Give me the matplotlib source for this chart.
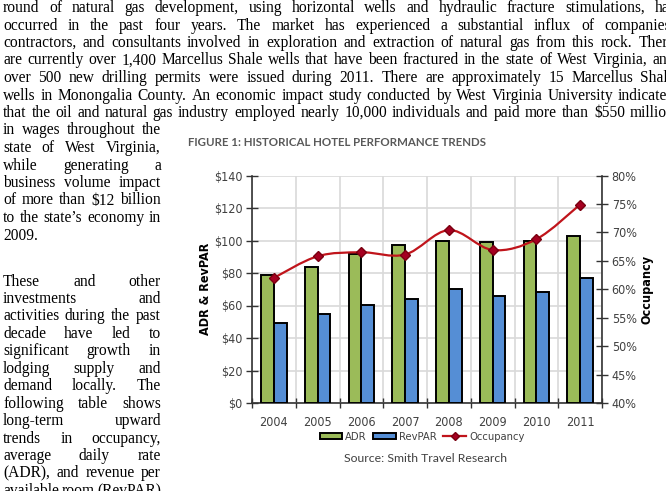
import numpy as np
import matplotlib
matplotlib.use("Agg")
import matplotlib.pyplot as plt
from matplotlib.path import Path
from matplotlib.patches import PathPatch, Patch
from matplotlib.lines import Line2D
from matplotlib.transforms import IdentityTransform
from matplotlib import font_manager

# data
years = ["2004", "2005", "2006", "2007", "2008", "2009", "2010", "2011"]
adr = [79, 84, 92, 97, 100, 99, 99.5, 102.5]
revpar = [49, 55, 60.5, 64, 70, 66, 68.5, 77]
occupancy = [62.0, 65.8, 66.5, 66.1, 70.4, 66.9, 68.8, 74.9]

left_ticks = [0, 20, 40, 60, 80, 100, 120, 140]
right_ticks = [40, 45, 50, 55, 60, 65, 70, 75, 80]

para_top = [
    "round of natural gas development, using horizontal wells and hydraulic fracture stimulations, has",
    "occurred in the past four years. The market has experienced a substantial influx of companies,",
    "contractors, and consultants involved in exploration and extraction of natural gas from this rock. There",
    "are currently over 1,400 Marcellus Shale wells that have been fractured in the state of West Virginia, and",
    "over 500 new drilling permits were issued during 2011. There are approximately 15 Marcellus Shale",
    "wells in Monongalia County. An economic impact study conducted by West Virginia University indicated",
    "that the oil and natural gas industry employed nearly 10,000 individuals and paid more than $550 million",
]
para_col1 = [
    "in wages throughout the",
    "state of West Virginia,",
    "while generating a",
    "business volume impact",
    "of more than $12 billion",
    "to the state\u2019s economy in",
    "2009.",
]
para_col2 = [
    "These and other",
    "investments and",
    "activities during the past",
    "decade have led to",
    "significant growth in",
    "lodging supply and",
    "demand locally. The",
    "following table shows",
    "long-term upward",
    "trends in occupancy,",
    "average daily rate",
    "(ADR), and revenue per",
    "available room (RevPAR)",
]

W, H = 666, 491
fig = plt.figure(figsize=(W / 100, H / 100), dpi=100)
fig.patch.set_facecolor("white")

serif = ["Liberation Serif"]
sans = ["Lato"]
narrow = dict(family="DejaVu Sans", stretch="condensed")

renderer = fig.canvas.get_renderer()
ident = IdentityTransform()


def justify(line, y_img, x0, x1, size, last=False):
    words = line.split()
    arts = [fig.text(0, 0, w, transform=ident, fontsize=size, family=serif,
                     color="black", va="baseline", ha="left") for w in words]
    widths = [a.get_window_extent(renderer).width for a in arts]
    space = size * 100 / 72 * 0.25
    if last or len(words) == 1:
        gap = space
    else:
        gap = max((x1 - x0 - sum(widths)) / (len(words) - 1), 0.6 * space)
    x = x0
    for a, w in zip(arts, widths):
        a.set_position((x, H - y_img))
        x += w + gap


fs_body = 11.2
for k, line in enumerate(para_top):
    justify(line, 12 + 17.5 * k, 3, 675, fs_body)
for k, line in enumerate(para_col1):
    justify(line, 12 + 17.5 * (k + 7), 3, 161, fs_body, last=(k == len(para_col1) - 1))
for k, line in enumerate(para_col2):
    justify(line, 285.5 + 17.45 * k, 3, 161, fs_body)

# chart
ax = fig.add_axes([252 / W, (H - 403) / H, 350 / W, (403 - 175.5) / H])
x = np.arange(len(years))
bw = 0.29
ax.bar(x - bw / 2, adr, bw, color="#9BBB59", edgecolor="black", linewidth=1.4, zorder=3)
ax.bar(x + bw / 2, revpar, bw, color="#558ED5", edgecolor="black", linewidth=1.4, zorder=3)
ax.set_xlim(-0.5, len(years) - 0.5)
ax.set_ylim(0, 140)
ax.set_yticks(left_ticks)
ax.set_yticklabels(["${}".format(v) for v in left_ticks])
ax.set_xticks(x)
ax.set_xticklabels(years)
ax.set_xticks(np.arange(len(years) + 1) - 0.5, minor=True)
ax.tick_params(axis="x", which="major", length=0, pad=9)
ax.tick_params(axis="x", which="minor", length=7, direction="inout", color="#333333", width=1)
ax.tick_params(axis="y", length=8, direction="inout", color="#333333", width=1, pad=3)
ax.grid(True, axis="y", color="#D9D9D9", linewidth=1.2, zorder=0)
ax.grid(True, axis="x", which="minor", color="#D9D9D9", linewidth=1.2, zorder=0)
for s in ["top", "right"]:
    ax.spines[s].set_visible(False)
for s in ["left", "bottom"]:
    ax.spines[s].set_color("#333333")
    ax.spines[s].set_linewidth(1.2)
for lab in ax.get_xticklabels() + ax.get_yticklabels():
    lab.set_fontproperties(font_manager.FontProperties(size=9, **narrow))
    lab.set_color("#404040")
ax.set_ylabel("ADR & RevPAR", fontsize=9, fontweight="bold", color="black", labelpad=1, **narrow)

ax2 = ax.twinx()
ax2.set_ylim(40, 80)
ax2.set_yticks(right_ticks)
ax2.set_yticklabels(["{}%".format(v) for v in right_ticks])
ax2.tick_params(axis="y", length=8, direction="inout", color="#333333", width=1, pad=3)
for s in ["top", "left", "bottom"]:
    ax2.spines[s].set_visible(False)
ax2.spines["right"].set_color("#333333")
ax2.spines["right"].set_linewidth(1.2)
for lab in ax2.get_yticklabels():
    lab.set_fontproperties(font_manager.FontProperties(size=9, **narrow))
    lab.set_color("#404040")
ax2.set_ylabel("Occupancy", fontsize=9, fontweight="bold", color="black", labelpad=3, **narrow)

# smoothed occupancy line (Bezier through the points)
pts = np.column_stack([x, occupancy]).astype(float)
verts = [pts[0]]
codes = [Path.MOVETO]
for i in range(len(pts) - 1):
    p0 = pts[i - 1] if i > 0 else pts[i]
    p1, p2 = pts[i], pts[i + 1]
    p3 = pts[i + 2] if i + 2 < len(pts) else pts[i + 1]
    verts += [p1 + (p2 - p0) / 6, p2 - (p3 - p1) / 6, p2]
    codes += [Path.CURVE4] * 3
ax2.add_patch(PathPatch(Path(verts, codes), facecolor="none", edgecolor="#C0141B", linewidth=1.6, zorder=4))
ax2.plot(x, occupancy, linestyle="none", marker="D", markersize=5, color="#A50021",
         markeredgecolor="#7A0010", zorder=5)

handles = [
    Patch(facecolor="#9BBB59", edgecolor="black", linewidth=1.4, label="ADR"),
    Patch(facecolor="#558ED5", edgecolor="black", linewidth=1.4, label="RevPAR"),
    Line2D([0], [0], color="#C0141B", linewidth=1.6, marker="D", markersize=4,
           markerfacecolor="#A50021", markeredgecolor="#7A0010", label="Occupancy"),
]
fig.legend(handles=handles, loc="center", bbox_to_anchor=(422 / W, (H - 437) / H), ncol=3,
           frameon=False, prop=font_manager.FontProperties(size=8, **narrow), handlelength=2.0,
           handleheight=0.55, handletextpad=0.3, columnspacing=0.6, labelcolor="#404040",
           borderpad=0)

fig.text(337 / W, (H - 142) / H, "FIGURE 1: HISTORICAL HOTEL PERFORMANCE TRENDS", family=sans,
         fontweight="bold", fontsize=8.3, color="#595959", ha="center", va="center")
fig.text(425.5 / W, (H - 458) / H, "Source: Smith Travel Research", family=sans,
         fontsize=8.8, color="#404040", ha="center", va="center")

fig.savefig("out.png", dpi=100)
